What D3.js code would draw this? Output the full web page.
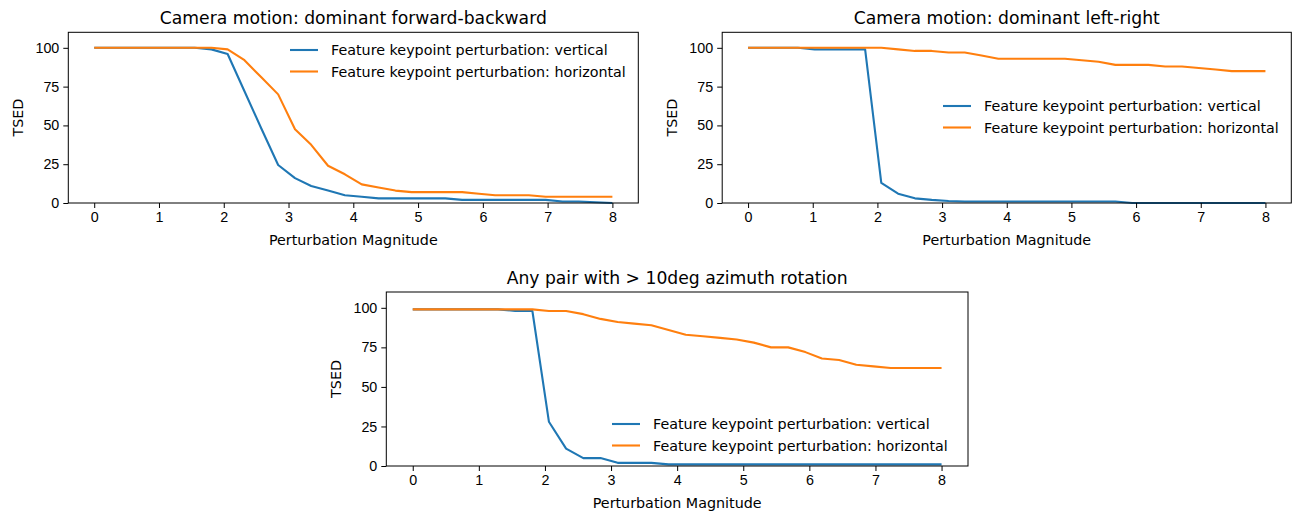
<!DOCTYPE html>
<html>
<head>
<meta charset="utf-8">
<script src="https://cdn.jsdelivr.net/npm/d3@7"></script>
<style>
  body { margin: 0; background: #fff; }
  svg { font-family: "DejaVu Sans", sans-serif; }
  .axis path, .axis line { stroke: #000; stroke-width: 1; }
  .axis text { font-size: 14.3px; fill: #000; }
</style>
</head>
<body>
<div id="chart"></div>
<script>
// Perturbation magnitudes (x values)
var magnitudes = [0, 0.26, 0.52, 0.77, 1.03, 1.29, 1.55, 1.81, 2.06, 2.32, 2.58, 2.84,
    3.10, 3.35, 3.61, 3.87, 4.13, 4.39, 4.65, 4.90, 5.16, 5.42, 5.68, 5.94,
    6.19, 6.45, 6.71, 6.97, 7.23, 7.48, 7.74, 8.00];

// Camera motion: dominant forward-backward
var fbVertical = [100, 100, 100, 100, 100, 100, 100, 99, 96, 72, 48, 24.5,
    16, 11, 8, 5, 4, 3, 3, 3, 3, 3, 2, 2, 2, 2, 2, 2, 1, 1, 0.5, 0];
var fbHorizontal = [100, 100, 100, 100, 100, 100, 100, 100, 99, 92, 81, 70,
    47.5, 37.5, 24, 18.5, 12, 10, 8, 7, 7, 7, 7, 6, 5, 5, 5, 4, 4, 4, 4, 4];

// Camera motion: dominant left-right
var lrVertical = [100, 100, 100, 100, 99, 99, 99, 99, 13, 6, 3, 2,
    1.3, 1, 1, 1, 1, 1, 1, 1, 1, 1, 1, 0, 0, 0, 0, 0, 0, 0, 0, 0];
var lrHorizontal = [100, 100, 100, 100, 100, 100, 100, 100, 100, 99, 98, 98,
    97, 97, 95, 93, 93, 93, 93, 93, 92, 91, 89, 89, 89, 88, 88, 87, 86, 85, 85, 85];

// Any pair with > 10deg azimuth rotation
var azVertical = [99, 99, 99, 99, 99, 99, 98, 98, 28, 11, 5, 5,
    2, 2, 2, 1, 1, 1, 1, 1, 1, 1, 1, 1, 1, 1, 1, 1, 1, 1, 1, 1];
var azHorizontal = [99, 99, 99, 99, 99, 99, 99, 99, 98, 98, 96, 93,
    91, 90, 89, 86, 83, 82, 81, 80, 78, 75, 75, 72, 68, 67, 64, 63, 62, 62, 62, 62];

var xTicks = [0, 1, 2, 3, 4, 5, 6, 7, 8];
var yTicks = [0, 25, 50, 75, 100];
var seriesNames = ["Feature keypoint perturbation: vertical",
    "Feature keypoint perturbation: horizontal"];
var colors = ["#1f77b4", "#ff7f0e"];

var panels = [
    {title: "Camera motion: dominant forward-backward", box: [68.3, 32.3, 638.3, 203],
     series: [fbVertical, fbHorizontal], legend: [290, 50]},
    {title: "Camera motion: dominant left-right", box: [722.2, 32.3, 1291.3, 203],
     series: [lrVertical, lrHorizontal], legend: [943, 106]},
    {title: "Any pair with > 10deg azimuth rotation", box: [386.3, 292, 968, 466],
     series: [azVertical, azHorizontal], legend: [612, 424]}
];

var svg = d3.select("#chart").append("svg")
    .attr("width", 1293)
    .attr("height", 514);

panels.forEach(function(p) {
    var left = p.box[0], top = p.box[1], right = p.box[2], bottom = p.box[3];
    var width = right - left, height = bottom - top;

    var x = d3.scaleLinear().domain([-0.4, 8.4]).range([0, width]);
    var y = d3.scaleLinear().domain([0, 110]).range([height, 0]);

    var g = svg.append("g")
        .attr("transform", "translate(" + left + "," + top + ")");

    // Lines
    var line = d3.line()
        .x(function(d, i) { return x(magnitudes[i]); })
        .y(function(d) { return y(d); });

    p.series.forEach(function(s, k) {
        g.append("path")
            .datum(s)
            .attr("fill", "none")
            .attr("stroke", colors[k])
            .attr("stroke-width", 2.1)
            .attr("stroke-linejoin", "round")
            .attr("d", line);
    });

    // Axes
    g.append("g")
        .attr("class", "axis")
        .attr("transform", "translate(0," + height + ")")
        .call(d3.axisBottom(x).tickValues(xTicks).tickSize(5).tickPadding(4).tickSizeOuter(0))
        .select(".domain").remove();

    g.append("g")
        .attr("class", "axis")
        .call(d3.axisLeft(y).tickValues(yTicks).tickSize(5).tickPadding(4).tickSizeOuter(0))
        .select(".domain").remove();

    // Frame
    g.append("rect")
        .attr("width", width)
        .attr("height", height)
        .attr("fill", "none")
        .attr("stroke", "#000")
        .attr("stroke-width", 1);

    // Title
    svg.append("text")
        .attr("x", left + width / 2)
        .attr("y", top - 8.5)
        .attr("text-anchor", "middle")
        .attr("font-size", "17.2px")
        .text(p.title);

    // Axis labels
    svg.append("text")
        .attr("x", left + width / 2)
        .attr("y", bottom + 42)
        .attr("text-anchor", "middle")
        .attr("font-size", "14.3px")
        .text("Perturbation Magnitude");

    svg.append("text")
        .attr("transform", "translate(" + (left - 45) + "," + (top + height / 2) + ") rotate(-90)")
        .attr("text-anchor", "middle")
        .attr("font-size", "14.3px")
        .text("TSED");

    // Legend
    var lg = svg.append("g")
        .attr("transform", "translate(" + p.legend[0] + "," + p.legend[1] + ")");
    seriesNames.forEach(function(name, k) {
        lg.append("line")
            .attr("x1", 0).attr("x2", 28)
            .attr("y1", k * 21.5).attr("y2", k * 21.5)
            .attr("stroke", colors[k])
            .attr("stroke-width", 2.1);
        lg.append("text")
            .attr("x", 41)
            .attr("y", k * 21.5 + 5)
            .attr("font-size", "14.3px")
            .text(name);
    });
});
</script>
</body>
</html>
